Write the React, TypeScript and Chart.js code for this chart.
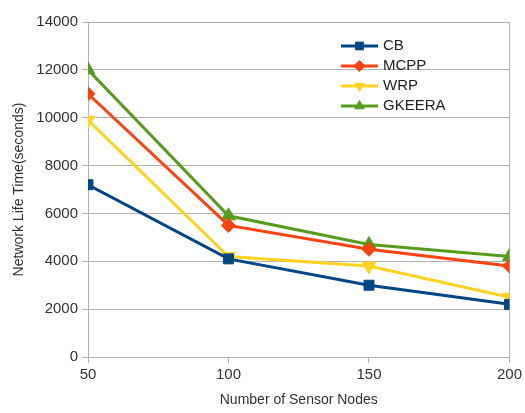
import React, { useEffect, useRef } from "react";
import { Chart, registerables } from "chart.js";
import { drawPoint } from "chart.js/helpers";

Chart.register(...registerables);

const nodes = [50, 100, 150, 200];
const cb = [7200, 4100, 3000, 2200];
const mcpp = [11000, 5500, 4500, 3800];
const wrp = [9900, 4200, 3800, 2500];
const gkeera = [12000, 5900, 4700, 4200];
const seriesNames = ["CB", "MCPP", "WRP", "GKEERA"];

const FONT = "'Liberation Sans', Arial, sans-serif";
const GRID = "#b3b3b3";

const legendPlugin = {
  id: "insideLegend",
  afterDraw(chart: any) {
    const ctx = chart.ctx;
    const x0 = 341, x1 = 378, tx = 383;
    const y0 = 46, dy = 20;
    chart.data.datasets.forEach((ds: any, i: number) => {
      const y = y0 + i * dy;
      ctx.save();
      ctx.strokeStyle = ds.borderColor;
      ctx.lineWidth = 3;
      ctx.beginPath();
      ctx.moveTo(x0, y);
      ctx.lineTo(x1, y);
      ctx.stroke();
      ctx.fillStyle = ds.pointBackgroundColor || ds.borderColor;
      ctx.strokeStyle = ds.borderColor;
      ctx.lineWidth = 1;
      drawPoint(ctx, { pointStyle: ds.pointStyle, rotation: ds.pointRotation || 0, radius: 5.5, borderWidth: 1 }, (x0 + x1) / 2, y);
      ctx.fillStyle = "#222";
      ctx.font = `15px ${FONT}`;
      ctx.textBaseline = "middle";
      ctx.textAlign = "left";
      ctx.fillText(ds.label, tx, y);
      ctx.restore();
    });
  },
};

export default function App() {
  const ref = useRef<HTMLCanvasElement>(null);
  useEffect(() => {
    const mk = (label: string, data: number[], color: string, style: string, rot = 0, r = 6) => ({
      label,
      data: nodes.map((n, i) => ({ x: n, y: data[i] })),
      borderColor: color,
      backgroundColor: color,
      pointBackgroundColor: color,
      pointBorderColor: color,
      borderWidth: 3,
      pointStyle: style,
      pointRotation: rot,
      pointRadius: r,
      pointBorderWidth: 1,
      tension: 0,
    });
    const chart = new Chart(ref.current!, {
      type: "line",
      data: {
        datasets: [
          mk(seriesNames[0], cb, "#004586", "rect", 0, 7),
          mk(seriesNames[1], mcpp, "#ff420e", "rectRot", 0, 7),
          mk(seriesNames[2], wrp, "#ffd320", "triangle", 180, 8),
          mk(seriesNames[3], gkeera, "#579d1c", "triangle", 0, 8),
        ] as any,
      },
      plugins: [legendPlugin],
      options: {
        animation: false,
        responsive: false,
        maintainAspectRatio: false,
        layout: { padding: { left: 0, right: 15, top: 22, bottom: 0 } },
        plugins: { legend: { display: false }, tooltip: { enabled: false } },
        scales: {
          x: {
            type: "linear",
            min: 50,
            max: 200,
            ticks: { stepSize: 50, color: "#333", font: { family: FONT, size: 15 }, padding: 3 },
            grid: {
              color: (c: any) => (c.tick && c.tick.value === 200 ? GRID : "rgba(0,0,0,0)"),
              tickColor: GRID,
              tickLength: 6,
            },
            border: { color: GRID },
            title: { display: true, text: "Number of Sensor Nodes", color: "#333", font: { family: FONT, size: 14 }, padding: { top: 11 } },
            afterFit: (s: any) => { s.height = 56; },
          },
          y: {
            min: 0,
            max: 14000,
            ticks: { stepSize: 2000, color: "#333", font: { family: FONT, size: 15 }, padding: 4, callback: (v: any) => String(v) },
            grid: { color: GRID, tickColor: GRID, tickLength: 6 },
            border: { color: GRID },
            title: { display: true, text: "Network Life Time(seconds)", color: "#333", font: { family: FONT, size: 14 }, padding: { top: 11, bottom: 0 } },
            afterFit: (s: any) => { s.width = 88; },
          },
        },
      } as any,
    });
    return () => chart.destroy();
  }, []);
  return (
    <div style={{ position: "fixed", left: 0, top: 0, width: 525, height: 413, background: "#fff" }}>
      <canvas ref={ref} width={525} height={413} style={{ width: 525, height: 413 }} />
    </div>
  );
}
